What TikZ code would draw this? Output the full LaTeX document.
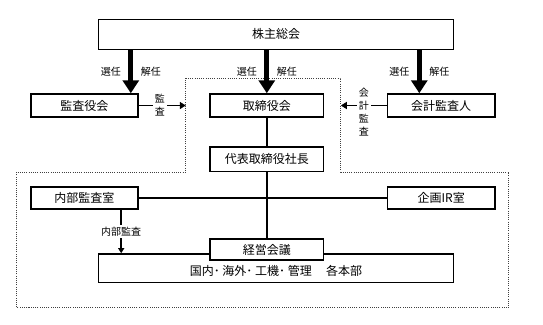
\documentclass[tikz,border=0pt]{standalone}
\usepackage{fontspec}
\setmainfont{Noto Sans CJK JP}
\usetikzlibrary{arrows.meta, calc}

\begin{document}
\begin{tikzpicture}[x=1pt, y=-1pt,
      box/.style={draw, line width=1.5pt, fill=white, minimum height=23pt,
                  inner sep=0pt, font=\fontsize{12}{14}\selectfont},
      link/.style={line width=1.8pt},
      bigarr/.style={-{Triangle[length=13pt, width=16pt]}, line width=5pt},
      arr/.style={-{Triangle[length=6pt, width=7pt]}, line width=1.7pt},
      lbl/.style={font=\fontsize{10}{13}\selectfont, inner sep=1pt},
      vlbl/.style={lbl, fill=white, align=center, inner sep=2pt},
      frame/.style={line width=0.9pt, black!75, dash pattern=on 1pt off 1.2pt}]
    \useasboundingbox (0,0) rectangle (543,324);
    % dotted frame round the board and the company
    \coordinate (f1) at (185.8,78);   \coordinate (f2) at (340.8,78);
    \coordinate (f3) at (340.8,172);  \coordinate (f4) at (508.7,172);
    \coordinate (f5) at (508.7,307.7);\coordinate (f6) at (16.6,307.7);
    \coordinate (f7) at (16.6,172);   \coordinate (f8) at (185.8,172);
    \draw[frame] (f1) -- (f2) -- (f3) -- (f4) -- (f5) -- (f6) -- (f7) -- (f8) -- cycle;

    \node[box, minimum width=354.7pt, minimum height=30.2pt] (soukai) at (276,34.4) {株主総会};
    \node[box, minimum width=106.7pt] (kansa)  at (84.4,105.5)  {監査役会};
    \node[box, minimum width=113.5pt] (torishimari) at (266.8,105.5) {取締役会};
    \node[box, minimum width=107.3pt] (kaikei) at (441.2,105.5) {会計監査人};
    \node[box, minimum width=113.5pt, minimum height=24.5pt] (shachou) at (266.8,159) {代表取締役社長};
    \node[box, minimum width=106.7pt, minimum height=22pt] (naibu)  at (84.4,198)  {内部監査室};
    \node[box, minimum width=107.3pt, minimum height=22pt] (kikaku) at (441.2,198) {企画IR室};
    \node[box, minimum width=354.7pt, minimum height=28.7pt,
          text height=15pt, text depth=0pt] (honbu) at (276,268.3)
          {国内･ 海外･ 工機･ 管理\hspace{1.2em}各本部};
    \node[box, minimum width=113.5pt, minimum height=21pt] (keiei) at (266.8,249.5) {経営会議};

    % election and dismissal
    \coordinate (kansa-in)  at ([xshift=-7.7pt]kansa.north east);
    \coordinate (kaikei-in) at ([xshift=32.5pt]kaikei.north west);
    \draw[bigarr] (kansa-in |- soukai.south) -- (kansa-in)
      node[lbl, midway, left=6.5pt] {選任} node[lbl, midway, right=6.5pt] {解任};
    \draw[bigarr] (soukai.south -| torishimari) -- (torishimari.north)
      node[lbl, midway, left=6.5pt] {選任} node[lbl, midway, right=6.5pt] {解任};
    \draw[bigarr] (kaikei-in |- soukai.south) -- (kaikei-in)
      node[lbl, midway, left=6.5pt] {選任} node[lbl, midway, right=6.5pt] {解任};

    % audits
    \draw[arr] (kansa.east) -- (kansa.east -| f1) node[vlbl, pos=0.45] {監\\査};
    \draw[arr] (kaikei.west) -- (kaikei.west -| f2)
      node[vlbl, midway, yshift=-6.5pt] {会\\計\\監\\査};

    % organisation
    \draw[link] (torishimari) -- (shachou);
    \draw[link] (shachou) -- (keiei);
    \draw[link] (naibu) -- (kikaku);
    \coordinate (naibu-out) at ([xshift=-17.3pt]naibu.south east);
    \draw[-{Triangle[length=5pt, width=6pt]}, line width=1.5pt]
      (naibu-out) -- (naibu-out |- honbu.north)
      node[lbl, midway, fill=white, inner sep=1.5pt] {内部監査};
  \end{tikzpicture}
\end{document}
